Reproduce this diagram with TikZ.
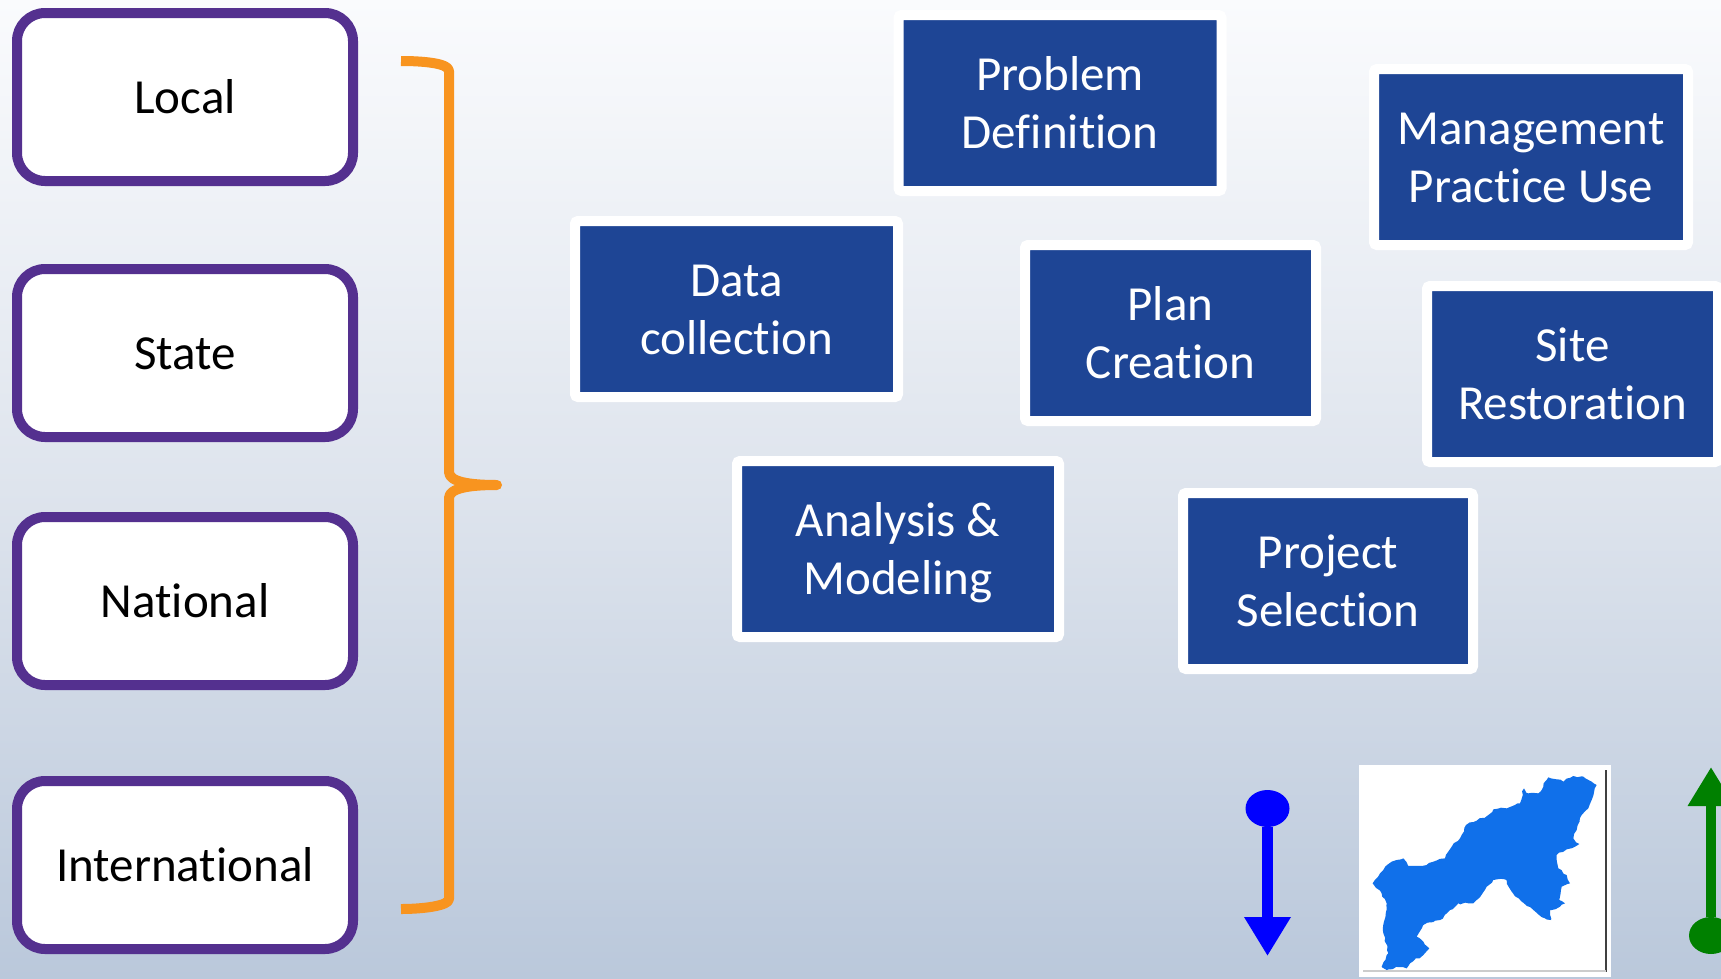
\documentclass[tikz,border=0pt]{standalone}
\usepackage{fontspec}
\setmainfont[Ligatures=CommonOff]{Carlito}
\usetikzlibrary{shapes.geometric,arrows.meta,decorations.pathmorphing}
\definecolor{bgtop}{HTML}{FAFBFD}
\definecolor{bgmid}{HTML}{DEE4ED}
\definecolor{bgbot}{HTML}{BAC8DB}
\definecolor{levelpurple}{HTML}{54308F}
\definecolor{stepblue}{HTML}{1E4595}
\definecolor{braceorange}{HTML}{F8941F}
\definecolor{mapblue}{HTML}{1070EA}
\definecolor{arrowgreen}{HTML}{008000}
\tikzset{
  levelbox/.style={draw=levelpurple,line width=10pt,fill=white,rounded corners=28pt,outer sep=0pt,inner sep=0pt,
    minimum width=336pt,minimum height=168pt,text=black,font=\fontsize{49}{58}\selectfont,text height=33pt,text depth=0pt},
  stepbox/.style={draw=white,line width=10pt,fill=stepblue,rounded corners=3pt,outer sep=0pt,inner sep=0pt,
    minimum height=176pt,text=white,align=center,font=\fontsize{49}{58}\selectfont,text height=90pt,text depth=0pt},
  dotshape/.style={ellipse,inner sep=0pt,outer sep=0pt,minimum width=44pt,minimum height=37pt},
}
\begin{document}
\begin{tikzpicture}[x=1pt,y=-1pt]
\pgfmathsetseed{7}
\clip (0,0) rectangle (1721,978);
\shade[top color=bgtop,bottom color=bgbot,middle color=bgmid] (0,0) rectangle (1721,978);

\node[levelbox] (local) at (185,97) {Local};
\node[levelbox] (state) at (185,353) {State};
\node[levelbox] (national) at (185,601) {National};
\node[levelbox] (international) at (185,865) {International};

\draw[braceorange,line width=10pt,line join=round]
  (401,61) .. controls (422,61) and (449,63) .. (449,71)
  -- (449,472) .. controls (449,482) and (470,485) .. (497,485)
  .. controls (470,485) and (449,488) .. (449,498)
  -- (449,899) .. controls (449,906) and (422,909) .. (401,909);

\node[stepbox,minimum width=323pt] (problem) at (1060,103) {Problem\\Definition};
\node[stepbox,minimum width=323pt] (data) at (736.5,309) {Data\\collection};
\node[stepbox,minimum width=291pt] (plan) at (1170.5,333) {Plan\\Creation};
\node[stepbox,minimum width=314pt] (mgmt) at (1531,157) {Management\\Practice Use};
\node[stepbox,minimum width=291pt] (site) at (1572.5,374) {Site\\Restoration};
\node[stepbox,minimum width=322pt] (analysis) at (898,549) {Analysis \&\\Modeling};
\node[stepbox,minimum width=290pt] (project) at (1328,581) {Project\\Selection};

\node[dotshape,fill=blue] (bluedot) at (1267.5,808.5) {};
\coordinate (bluetip) at (1267.5,956);
\draw[blue,line width=10.7pt,-{Triangle[width=44pt,length=39pt]}] (bluedot) -- (bluetip);

\node[dotshape,fill=arrowgreen] (greendot) at (1711,935.5) {};
\coordinate (greentip) at (1711,767);
\draw[arrowgreen,line width=10.7pt,-{Triangle[width=44pt,length=39pt]}] (greendot) -- (greentip);

\fill[white] (1359,765) rectangle (1611,977);
\draw[black!75,line width=1.5pt] (1606,770) -- (1606,972);
\draw[black!20,line width=1.5pt] (1363,971) -- (1606,971);
\begin{scope}[shift={(1220pt,-740pt)},x=.33333pt,y=-.33333pt]
\fill[mapblue,decorate,decoration={random steps,segment length=4pt,amplitude=1.1pt}] (458,430) -- (480,400) -- (515,365) -- (530,360) -- (550,355) -- (565,378) -- (605,378) -- (640,365) -- (675,355) -- (695,320) -- (720,295) -- (738,255) -- (770,242) -- (805,225) -- (820,208) -- (860,205) -- (900,190) -- (912,145) -- (925,160) -- (955,160) -- (985,112) -- (1010,118) -- (1030,125) -- (1060,108) -- (1090,110) -- (1115,125) -- (1130,135) -- (1115,180) -- (1105,205) -- (1085,225) -- (1070,270) -- (1060,295) -- (1078,312) -- (1040,328) -- (1010,345) -- (1015,385) -- (1040,405) -- (1050,430) -- (1025,440) -- (1018,480) -- (1035,490) -- (1020,500) -- (990,510) -- (993,540) -- (975,535) -- (940,510) -- (905,485) -- (875,455) -- (855,418) -- (820,420) -- (800,440) -- (770,480) -- (760,490) -- (715,490) -- (690,510) -- (660,540) -- (610,555) -- (590,590) -- (610,605) -- (628,625) -- (610,645) -- (570,670) -- (560,685) -- (530,680) -- (500,690) -- (485,680) -- (505,640) -- (490,580) -- (500,490) -- (485,460) -- cycle;
\end{scope}
\end{tikzpicture}
\end{document}
